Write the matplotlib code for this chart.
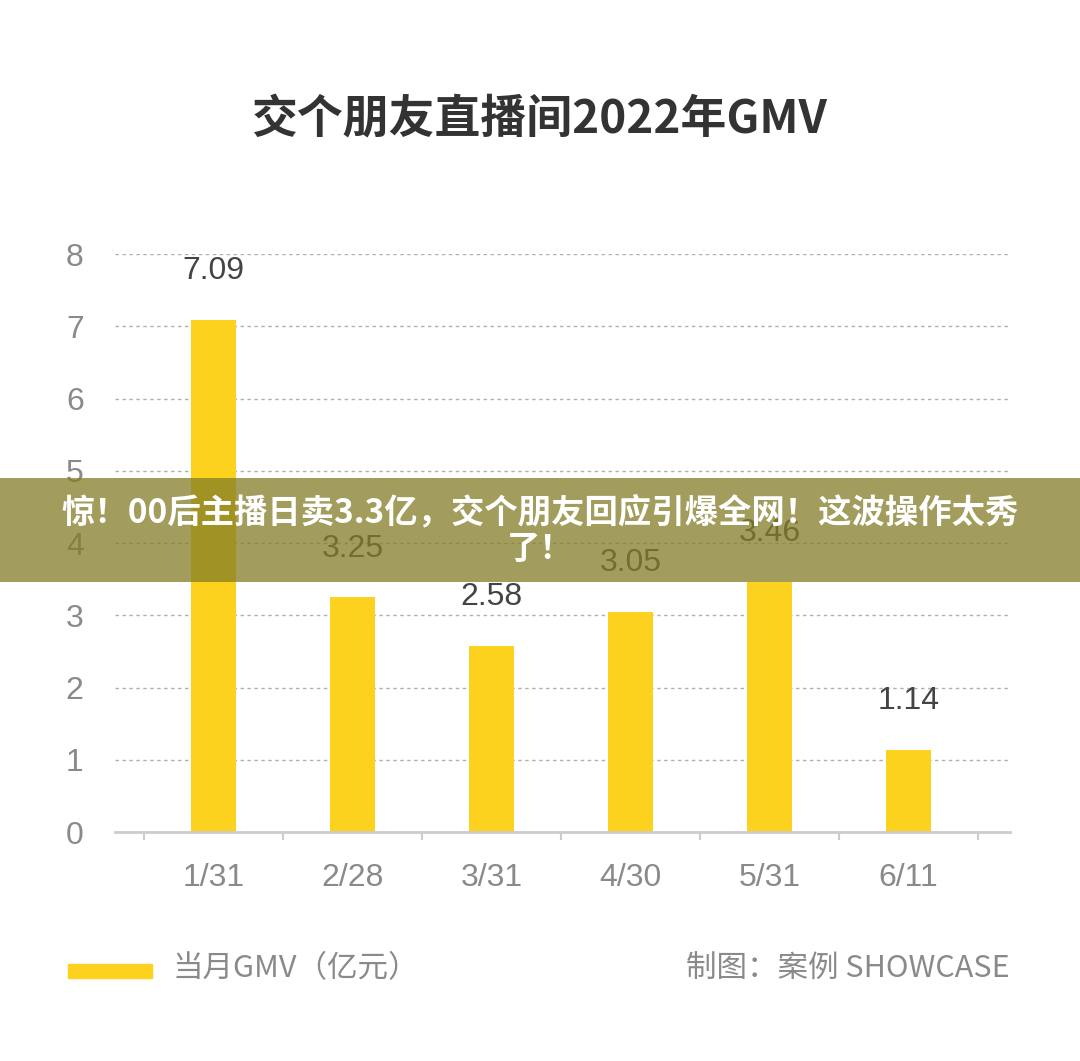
import matplotlib
matplotlib.use("Agg")
import matplotlib.pyplot as plt
from matplotlib.patches import Rectangle
import numpy as np

plt.rcParams['font.family'] = ['Noto Sans CJK SC', 'DejaVu Sans']
NUM_FONT = ['Liberation Sans', 'DejaVu Sans']

title = "交个朋友直播间2022年GMV"
categories = ["1/31", "2/28", "3/31", "4/30", "5/31", "6/11"]
values = [7.09, 3.25, 2.58, 3.05, 3.46, 1.14]
yticks = [0, 1, 2, 3, 4, 5, 6, 7, 8]
legend_label = "当月GMV（亿元）"
credit = "制图：案例 SHOWCASE"
banner_text = "惊！00后主播日卖3.3亿，交个朋友回应引爆全网！这波操作太秀\n了！"

bar_color = "#FCD21E"

fig = plt.figure(figsize=(10.8, 10.61), dpi=100)
ax = fig.add_axes([0.1065, 0.2158, 0.8285, 0.5448])

x = np.arange(len(categories))
ax.bar(x, values, width=0.32, color=bar_color, zorder=3)
for xi, v in zip(x, values):
    ax.annotate(f"{v:.2f}", (xi, v), xytext=(0, 35), textcoords="offset points",
                ha="center", va="center", fontsize=23, color="#444444", zorder=4,
                family=NUM_FONT)

ax.set_xlim(-0.71, 5.73)
ax.set_ylim(0, 8)
ax.set_yticks(yticks)
ax.set_yticklabels([str(t) for t in yticks], fontsize=23, color="#8a8a8a", family=NUM_FONT)
ax.set_xticks(x)
ax.set_xticklabels(categories, fontsize=23, color="#8a8a8a", family=NUM_FONT)
ax.set_xticks(np.arange(-0.5, 6.0, 1.0), minor=True)
ax.tick_params(axis="x", which="major", length=0, pad=22)
ax.tick_params(axis="x", which="minor", length=6, width=1.5, color="#cccccc")
ax.tick_params(axis="y", length=0, pad=0)
for lbl in ax.get_yticklabels():
    lbl.set_horizontalalignment("center")
    lbl.set_x(-0.045)

for y in yticks[1:]:
    ax.axhline(y, color="#b0b0b0", lw=1.0, ls=(0, (2.5, 2.5)), zorder=1)

for s in ["top", "right", "left"]:
    ax.spines[s].set_visible(False)
ax.spines["bottom"].set_color("#cccccc")
ax.spines["bottom"].set_linewidth(2)
ax.spines["bottom"].set_zorder(4)

fig.text(0.5, 1 - 120/1061, title, ha="center", va="center", fontsize=33, color="#333333",
         fontweight="bold")

# legend
fig.patches.append(Rectangle((68/1080, 1 - 978/1061), 84/1080, 14/1061,
                             transform=fig.transFigure, color=bar_color))
fig.text(172/1080, 1 - 969/1061, legend_label, ha="left", va="center", fontsize=22,
         color="#8a8a8a", fontweight="light")
fig.text(1010/1080, 1 - 969/1061, credit, ha="right", va="center", fontsize=22,
         color="#8a8a8a", fontweight="light")

# banner overlay
fig.patches.append(Rectangle((0, 1 - 582/1061), 1, 104/1061, transform=fig.transFigure,
                             facecolor="#837D27", alpha=0.75, edgecolor="none", zorder=10))
fig.text(0.5, 1 - 531/1061, banner_text, ha="center", va="center", fontsize=24,
         fontweight="bold", color="white", linespacing=1.15, zorder=11)

fig.savefig("out.png", dpi=100)
